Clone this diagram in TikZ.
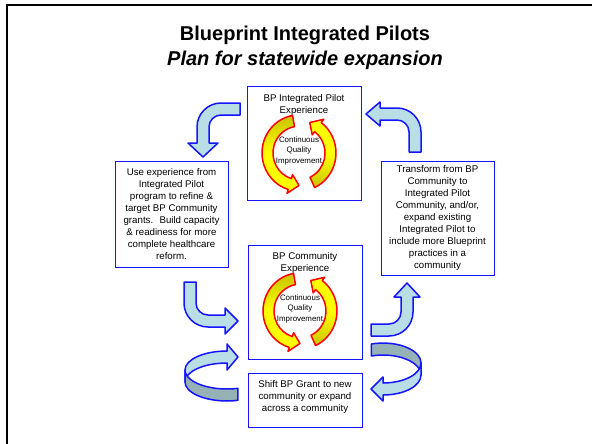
\documentclass[tikz,border=0pt]{standalone}
\usepackage{fontspec}
\setmainfont{Liberation Sans}
\usetikzlibrary{positioning}
\definecolor{boxblue}{RGB}{20,20,255}
\definecolor{arrowfill}{RGB}{185,222,229}
\definecolor{ribbonside}{RGB}{150,178,182}
\definecolor{cqiolive}{RGB}{200,196,0}
\tikzset{
  box/.style={draw=boxblue,line width=1pt,fill=white,inner sep=0pt},
  txt/.style={font=\fontsize{9.7}{12}\selectfont,align=center,inner sep=0pt},
  cqitxt/.style={font=\fontsize{7.9}{10.5}\selectfont,align=center,inner sep=0pt},
  bent/.style={draw=boxblue,line width=1.5pt,fill=arrowfill,line join=round},
  side/.style={draw=boxblue,line width=1.5pt,fill=ribbonside,line join=round},
  cqi/.style={draw=red,line width=1.5pt,line join=round},
}
\begin{document}
\begin{tikzpicture}[x=1pt,y=-1pt]
\useasboundingbox (0,0) rectangle (592,444);
%\draw [help lines,step=10] (0,0) grid (592,444);
\draw [line width=2.5pt] (7,444) -- (7,5) -- (592,5);
\node [font=\bfseries\fontsize{20}{26}\selectfont,anchor=base] (title) at (305,41) {Blueprint Integrated Pilots};
\node [font=\bfseries\itshape\fontsize{20}{26}\selectfont,anchor=base] (subtitle) at (305,66) {Plan for statewide expansion};
% boxes
\node [box,minimum width=114,minimum height=113] (pilot) at (304,143.5) {};
\node [txt,below=7.5pt of pilot.north] (pilotlbl) {BP Integrated Pilot\\Experience};
\node [box,minimum width=114,minimum height=114] (community) at (305,302) {};
\node [txt,below=7.5pt of community.north] (communitylbl) {BP Community\\Experience};
\node [box,txt,minimum width=113,minimum height=106] (use) at (171.5,214) {Use experience from\\Integrated Pilot\\program to refine \&\\target BP Community\\grants.~ Build capacity\\\& readiness for more\\complete healthcare\\reform.};
\node [box,txt,minimum width=113,minimum height=114] (transform) at (437.5,218) {Transform from BP\\Community to\\Integrated Pilot\\Community, and/or,\\expand existing\\Integrated Pilot to\\include more Blueprint\\practices in a\\community};
\node [box,minimum width=114,minimum height=54] (shift) at (305,400) {};
\node [txt,below=7.5pt of shift.north] (shiftlbl) {Shift BP Grant to new\\community or expand\\across a community};
% continuous quality improvement circles
\foreach \cx/\cy/\nm in {299/153/pilotcqi,300/311/communitycqi} {
  \begin{scope}[shift={(\cx,\cy)},y={(0pt,1.03pt)}]
    \draw [cqi,top color=cqiolive,bottom color=yellow,middle color=yellow] (100:37) arc[start angle=100,end angle=253,radius=37] -- (253:41) -- (270:31.5) -- (253:22) -- (253:26) arc[start angle=253,end angle=100,radius=26] -- cycle;
    \draw [cqi,top color=yellow,bottom color=cqiolive,middle color=yellow] (-65:37) arc[start angle=-65,end angle=53,radius=37] -- (53:41) -- (70:31.5) -- (53:22) -- (53:26) arc[start angle=53,end angle=-65,radius=26] -- cycle;
    \node [cqitxt] (\nm) at (0,2) {Continuous\\Quality\\Improvement};
  \end{scope}
}
% bent arrows
\draw [bent] (240,103) -- (221,103) arc[start angle=-90,end angle=-180,radius=24] -- (197,143) -- (188,143) -- (203,157) -- (218,143) -- (209,143) -- (209,127) arc[start angle=-180,end angle=-90,radius=12] -- (240,115) -- cycle;
\draw [bent] (380,108) -- (397,108) arc[start angle=-90,end angle=0,radius=24] -- (421,152) -- (409,152) -- (409,132) arc[start angle=0,end angle=-90,radius=12] -- (380,120) -- (380,126) -- (366,114) -- (380,102) -- cycle;
\draw [bent] (184,282) -- (184,303) arc[start angle=180,end angle=90,radius=24] -- (225,327) -- (225,334) -- (238,321) -- (225,308) -- (225,315) -- (208,315) arc[start angle=90,end angle=180,radius=12] -- (196,282) -- cycle;
\draw [bent] (371,336) -- (389,336) arc[start angle=90,end angle=0,radius=24] -- (413,297) -- (420,297) -- (407,283) -- (394,297) -- (401,297) -- (401,312) arc[start angle=0,end angle=90,radius=12] -- (371,324) -- cycle;
% circular ribbons
\draw [bent] (185,370) arc[start angle=180,end angle=270,x radius=42,y radius=19] -- (227,344) -- (238,357) -- (227,370) -- (227,363) arc[start angle=270,end angle=180,x radius=42,y radius=19] -- cycle;
\draw [side] (185,370) arc[start angle=180,end angle=75,x radius=42,y radius=19] -- ++(0,12) arc[start angle=75,end angle=180,x radius=42,y radius=19] -- cycle;
\draw [side] (371.3,344) arc[start angle=-108,end angle=0,x radius=38,y radius=20] -- ++(0,12) arc[start angle=0,end angle=-108,x radius=38,y radius=20] -- cycle;
\draw [bent] (421,363) arc[start angle=0,end angle=90,x radius=38,y radius=20] -- (383,377) -- (371,389) -- (383,401) -- (383,395) arc[start angle=90,end angle=0,x radius=38,y radius=20] -- cycle;
\end{tikzpicture}
\end{document}
